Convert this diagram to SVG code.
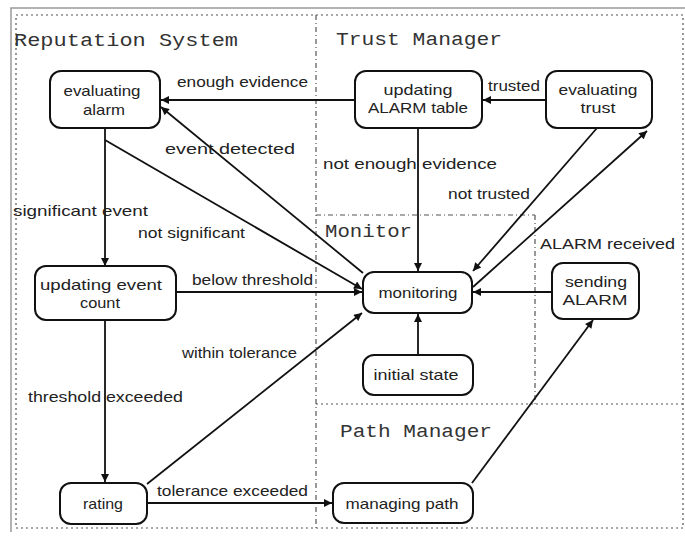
<svg xmlns="http://www.w3.org/2000/svg" width="685" height="541" viewBox="0 0 685 541">
<defs>
<style>
.frame{fill:none;stroke:#9a9a9a;stroke-width:1.5}
.border{fill:none;stroke:#555;stroke-width:1.2;stroke-dasharray:2,3}
.div{fill:none;stroke:#555;stroke-width:1.2;stroke-dasharray:5,3,1,3}
.node rect{fill:#fff;stroke:#111;stroke-width:2}
.node text{font-family:"Liberation Sans",Arial,sans-serif;font-size:15px;fill:#222;text-anchor:middle}
.edge{fill:none;stroke:#111;stroke-width:1.8;marker-end:url(#arr)}
.lbl{font-family:"Liberation Sans",Arial,sans-serif;font-size:15px;fill:#222}
.title{font-family:"Liberation Mono","Courier New",monospace;font-size:19px;fill:#333}
</style>
<marker id="arr" viewBox="0 0 10 10" refX="10" refY="5" markerWidth="10" markerHeight="8" markerUnits="userSpaceOnUse" orient="auto">
<path d="M0,0 L10,5 L0,10 z" fill="#111"/>
</marker>
</defs>
<rect width="685" height="541" fill="#fff"/>
<g id="frame">
<path class="frame" d="M11,532 L11,8 L685,8"/>
<rect class="border" x="16" y="15" width="667" height="513"/>
<path class="div" d="M316,15 L316,528"/>
<path class="div" d="M316,215 L535,215"/>
<path class="div" d="M535,215 L535,404"/>
<path class="border" d="M316,404 L683,404"/>
<text class="title" x="14" y="46" textLength="224" lengthAdjust="spacingAndGlyphs">Reputation System</text>
<text class="title" x="336" y="45" textLength="166" lengthAdjust="spacingAndGlyphs">Trust Manager</text>
<text class="title" x="325" y="237" textLength="87" lengthAdjust="spacingAndGlyphs">Monitor</text>
<text class="title" x="340" y="437" textLength="152" lengthAdjust="spacingAndGlyphs">Path Manager</text>
</g>
<g id="connectors">
<path class="edge" d="M355,100 L161,100"/>
<path class="edge" d="M545,100 L483,100"/>
<path class="edge" d="M418,128 L418,271"/>
<path class="edge" d="M597,128 L473,271"/>
<path class="edge" d="M473,287 L647,131"/>
<path class="edge" d="M363,273 L161,107"/>
<path class="edge" d="M105,140 L362,289"/>
<path class="edge" d="M105,128 L105,266"/>
<path class="edge" d="M176,292 L362,292"/>
<path class="edge" d="M105,320 L105,482"/>
<path class="edge" d="M147,484 L362,313"/>
<path class="edge" d="M147,503 L332,503"/>
<path class="edge" d="M472,483 L593,320"/>
<path class="edge" d="M552,292 L473,292"/>
<path class="edge" d="M418,355 L418,314"/>
<text class="lbl" x="177" y="87" textLength="131" lengthAdjust="spacingAndGlyphs">enough evidence</text>
<text class="lbl" x="488" y="91" textLength="52" lengthAdjust="spacingAndGlyphs">trusted</text>
<text class="lbl" x="165" y="154" textLength="130" lengthAdjust="spacingAndGlyphs">event detected</text>
<text class="lbl" x="13" y="216" textLength="135" lengthAdjust="spacingAndGlyphs">significant event</text>
<text class="lbl" x="138" y="238" textLength="107" lengthAdjust="spacingAndGlyphs">not significant</text>
<text class="lbl" x="323" y="169" textLength="174" lengthAdjust="spacingAndGlyphs">not enough evidence</text>
<text class="lbl" x="448" y="199" textLength="82" lengthAdjust="spacingAndGlyphs">not trusted</text>
<text class="lbl" x="540" y="249" textLength="135" lengthAdjust="spacingAndGlyphs">ALARM received</text>
<text class="lbl" x="192" y="285" textLength="121" lengthAdjust="spacingAndGlyphs">below threshold</text>
<text class="lbl" x="182" y="358" textLength="115" lengthAdjust="spacingAndGlyphs">within tolerance</text>
<text class="lbl" x="28" y="402" textLength="155" lengthAdjust="spacingAndGlyphs">threshold exceeded</text>
<text class="lbl" x="157" y="496" textLength="151" lengthAdjust="spacingAndGlyphs">tolerance exceeded</text>
</g>
<g id="evaluating-alarm" class="node">
<rect x="50" y="71" width="110" height="57" rx="11"/>
<text x="102" y="96" textLength="77" lengthAdjust="spacingAndGlyphs">evaluating</text>
<text x="104" y="115" textLength="42" lengthAdjust="spacingAndGlyphs">alarm</text>
</g>
<g id="updating-alarm-table" class="node">
<rect x="355" y="71" width="127" height="57" rx="11"/>
<text x="418" y="95" textLength="69" lengthAdjust="spacingAndGlyphs">updating</text>
<text x="418" y="113" textLength="100" lengthAdjust="spacingAndGlyphs">ALARM table</text>
</g>
<g id="evaluating-trust" class="node">
<rect x="546" y="71" width="106" height="57" rx="11"/>
<text x="598" y="95" textLength="79" lengthAdjust="spacingAndGlyphs">evaluating</text>
<text x="598" y="113" textLength="35" lengthAdjust="spacingAndGlyphs">trust</text>
</g>
<g id="updating-event-count" class="node">
<rect x="35" y="266" width="141" height="54" rx="11"/>
<text x="101" y="290" textLength="122" lengthAdjust="spacingAndGlyphs">updating event</text>
<text x="100" y="308" textLength="40" lengthAdjust="spacingAndGlyphs">count</text>
</g>
<g id="monitoring" class="node">
<rect x="363" y="272" width="109" height="41" rx="11"/>
<text x="418" y="298" textLength="79" lengthAdjust="spacingAndGlyphs">monitoring</text>
</g>
<g id="sending-alarm" class="node">
<rect x="552" y="263" width="87" height="56" rx="11"/>
<text x="596" y="287" textLength="62" lengthAdjust="spacingAndGlyphs">sending</text>
<text x="595" y="305" textLength="65" lengthAdjust="spacingAndGlyphs">ALARM</text>
</g>
<g id="initial-state" class="node">
<rect x="363" y="355" width="110" height="40" rx="11"/>
<text x="416" y="380" textLength="85" lengthAdjust="spacingAndGlyphs">initial state</text>
</g>
<g id="rating" class="node">
<rect x="60" y="483" width="87" height="41" rx="11"/>
<text x="103" y="509" textLength="40" lengthAdjust="spacingAndGlyphs">rating</text>
</g>
<g id="managing-path" class="node">
<rect x="333" y="483" width="140" height="40" rx="11"/>
<text x="402" y="509" textLength="113" lengthAdjust="spacingAndGlyphs">managing path</text>
</g>
</svg>
